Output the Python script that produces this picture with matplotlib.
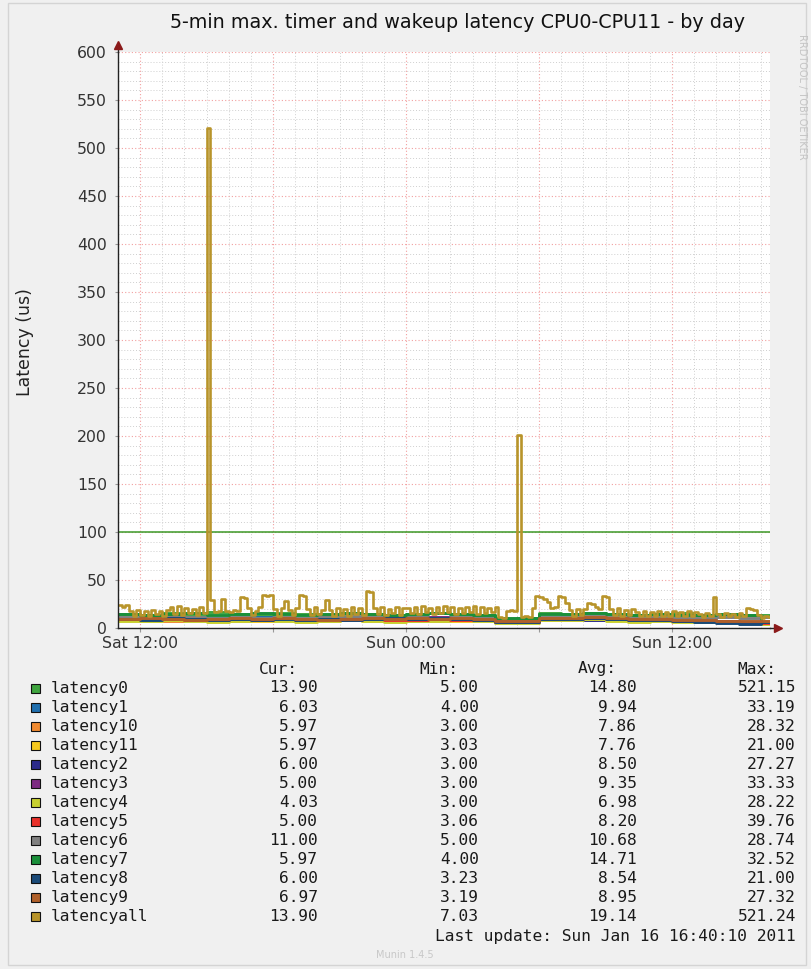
import matplotlib
matplotlib.use("Agg")
import matplotlib.pyplot as plt
import matplotlib.dates as mdates
import matplotlib.ticker as mticker
from matplotlib.patches import Rectangle
import pandas as pd

W, H = 811, 969

title = "5-min max. timer and wakeup latency CPU0-CPU11 - by day"

names = ["latency0", "latency1", "latency10", "latency11", "latency2", "latency3",
         "latency4", "latency5", "latency6", "latency7", "latency8", "latency9",
         "latencyall"]
colors = ["#3fa53f", "#1f6fae", "#f08a30", "#f5c81e", "#2c2a8a", "#7d2a82",
          "#c8d030", "#e8302a", "#808080", "#1a8f3a", "#1a4a78", "#b0602a",
          "#b8942a"]

cur = [13.90, 6.03, 5.97, 5.97, 6.00, 5.00, 4.03, 5.00, 11.00, 5.97, 6.00, 6.97, 13.90]
mins = [5.00, 4.00, 3.00, 3.03, 3.00, 3.00, 3.00, 3.06, 5.00, 4.00, 3.23, 3.19, 7.03]
avgs = [14.80, 9.94, 7.86, 7.76, 8.50, 9.35, 6.98, 8.20, 10.68, 14.71, 8.54, 8.95, 19.14]
maxs = [521.15, 33.19, 28.32, 21.00, 27.27, 33.33, 28.22, 39.76, 28.74, 32.52, 21.00, 27.32, 521.24]

# hourly samples from Sat 11:00
latency0 = [15, 14, 16, 15, 17, 15, 14, 16, 15, 14, 16, 15, 14, 15, 16, 15, 14, 9, 10, 16, 15, 16, 15, 14, 15, 16, 14, 15, 14, 14, 14]
latency1 = [10, 11, 12, 11, 10, 9, 11, 10, 9, 10, 11, 9, 10, 11, 10, 9, 10, 7, 8, 10, 10, 11, 10, 9, 10, 9, 8, 6, 5, 6, 6]
latency10 = [9, 8, 7, 9, 8, 7, 8, 9, 7, 8, 9, 8, 7, 8, 7, 8, 9, 6, 6, 8, 8, 9, 8, 7, 8, 7, 6, 7, 6, 6, 6]
latency11 = [8, 7, 12, 8, 7, 8, 7, 8, 9, 7, 8, 7, 8, 7, 8, 7, 8, 6, 6, 9, 9, 10, 8, 7, 8, 7, 6, 7, 6, 6, 6]
latency2 = [9, 8, 11, 9, 8, 9, 8, 9, 8, 9, 8, 9, 10, 9, 10, 9, 8, 6, 6, 9, 9, 8, 9, 8, 8, 7, 7, 6, 6, 6, 6]
latency3 = [10, 9, 12, 10, 9, 10, 9, 10, 9, 10, 9, 10, 11, 10, 11, 10, 9, 7, 7, 9, 9, 10, 9, 9, 9, 8, 8, 7, 6, 5, 5]
latency4 = [7, 7, 8, 7, 6, 7, 8, 7, 6, 7, 8, 7, 6, 7, 7, 8, 7, 5, 5, 8, 8, 9, 7, 6, 7, 6, 6, 6, 5, 4, 4]
latency5 = [9, 10, 9, 8, 8, 9, 8, 10, 8, 9, 8, 9, 8, 8, 9, 8, 8, 6, 6, 9, 9, 10, 9, 8, 8, 7, 7, 6, 5, 5, 5]
latency6 = [11, 10, 12, 11, 10, 11, 10, 11, 10, 11, 12, 11, 10, 11, 10, 11, 11, 9, 9, 11, 11, 12, 11, 10, 11, 10, 10, 11, 10, 11, 11]
latency7 = [15, 14, 15, 16, 14, 15, 16, 15, 14, 15, 16, 15, 14, 15, 16, 15, 14, 10, 10, 15, 15, 16, 15, 14, 15, 14, 14, 15, 14, 6, 6]
latency8 = [9, 8, 10, 9, 8, 9, 8, 9, 8, 9, 8, 9, 10, 9, 10, 9, 8, 6, 6, 9, 9, 10, 9, 8, 8, 7, 6, 5, 4, 6, 6]
latency9 = [9, 10, 9, 8, 9, 10, 9, 10, 9, 8, 9, 10, 9, 10, 9, 10, 9, 7, 7, 10, 10, 11, 10, 9, 9, 8, 8, 7, 7, 7, 7]

# 10-minute samples from Sat 11:00
latencyall = [24, 22, 24,
              18, 13, 19, 14, 18, 12, 19, 15, 18, 13, 19,
              22, 15, 23, 14, 21, 16, 20, 14, 22,
              16, 521.24,
              29, 17, 18, 30, 18,
              17, 19, 18,
              32, 31,
              21, 14, 18, 22,
              34, 33, 34,
              20, 13, 21,
              28,
              19, 14, 21,
              34, 33,
              20, 14, 22, 15, 19,
              29,
              19, 13, 21, 14, 20, 12, 22, 15, 21, 14,
              39, 37,
              21, 15, 22, 14, 20, 16, 22, 14, 21,
              21, 16, 22, 15, 23, 17, 21, 15, 22, 16, 23, 17, 22, 15, 21, 16, 22, 17,
              23, 15, 22, 16, 21, 17, 22,
              11, 10,
              18, 19, 18,
              201,
              11, 12, 11,
              21,
              33, 32, 30,
              27,
              21, 22,
              33, 32,
              26,
              19, 13, 20, 14,
              20,
              26, 25,
              22,
              20,
              33, 32,
              20, 14, 21, 13, 19, 14, 20,
              17, 12, 18, 13, 17, 12, 18, 13, 17, 12, 18, 13, 17, 12, 18, 13, 17,
              15, 11, 16, 12,
              32,
              15, 11, 16, 12, 15, 11, 16, 12,
              21, 20, 19,
              14, 10, 13, 11,
              13.9]

hourly = [latency0, latency1, latency10, latency11, latency2, latency3, latency4,
          latency5, latency6, latency7, latency8, latency9]

fig = plt.figure(figsize=(W / 100, H / 100), dpi=100, facecolor="#f0f0f0")
fig.patches.append(Rectangle((8 / W, 4 / H), 798 / W, 962 / H, transform=fig.transFigure,
                             fill=False, edgecolor="#d4d4d4", lw=1))
ax = fig.add_axes([118 / W, 1 - 628 / H, 652 / W, 576 / H], facecolor="white")

t_hour = pd.date_range("2011-01-15 11:00", periods=len(latency0), freq="1h")
t_all = pd.date_range("2011-01-15 11:00", periods=len(latencyall), freq="10min")

for vals, c in zip(hourly, colors[:-1]):
    ax.step(t_hour, vals, where="post", color=c, lw=2.1, zorder=3)
ax.step(t_all, latencyall, where="post", color=colors[-1], lw=1.9, zorder=4)

ax.axhline(100, color="#3c9a28", lw=1.1, zorder=2)

ax.set_xlim(pd.Timestamp("2011-01-15 11:00"), pd.Timestamp("2011-01-16 16:25"))
ax.set_ylim(0, 600)

ax.yaxis.set_major_locator(mticker.MultipleLocator(50))
ax.yaxis.set_minor_locator(mticker.MultipleLocator(10))
ax.xaxis.set_major_locator(mdates.HourLocator(byhour=[0, 6, 12, 18]))
ax.xaxis.set_minor_locator(mdates.HourLocator())


def fmt_time(x, pos):
    d = mdates.num2date(x)
    return d.strftime("%a %H:%M") if d.hour in (0, 12) else ""


ax.xaxis.set_major_formatter(mticker.FuncFormatter(fmt_time))

ax.set_axisbelow(True)
ax.grid(which="minor", color="#cfcfcf", ls=(0, (1, 2)), lw=0.7)
ax.grid(which="major", color="#f2a0a0", ls=(0, (1, 2)), lw=0.8)

for s in ["top", "right"]:
    ax.spines[s].set_visible(False)
for s in ["left", "bottom"]:
    ax.spines[s].set_color("#222222")
    ax.spines[s].set_linewidth(1.0)
    ax.spines[s].set_zorder(5)

ax.tick_params(which="both", colors="#999999", labelcolor="#333333", labelsize=11.3)
ax.tick_params(axis="y", which="major", length=2, pad=6)
ax.tick_params(axis="x", which="major", length=3, pad=3)
ax.tick_params(which="minor", length=0)

# axis arrows
ax.plot([1.0, 1.012], [0, 0], transform=ax.transAxes, color="#222222", lw=1, clip_on=False)
ax.plot([0, 0], [1.0, 1.01], transform=ax.transAxes, color="#222222", lw=1, clip_on=False)
ax.plot([1.012], [0], transform=ax.transAxes, marker=">", ms=6, color="#8b1a1a",
        clip_on=False, zorder=6)
ax.plot([0], [1.012], transform=ax.transAxes, marker="^", ms=6, color="#8b1a1a",
        clip_on=False, zorder=6)

fig.text(457.5 / W, 1 - 22 / H, title, ha="center", va="center", fontsize=13.8,
         color="#111111")
fig.text(25 / W, 1 - 342 / H, "Latency (us)", rotation=90, ha="center", va="center",
         fontsize=12.5, color="#222222")
fig.text(802 / W, 1 - 97 / H, "RRDTOOL / TOBI OETIKER", rotation=270, ha="center",
         va="center", fontsize=7, color="#c4c4c4")
fig.text(405 / W, 1 - 955 / H, "Munin 1.4.5", ha="center", va="center", fontsize=7,
         color="#c8c8c8")

# legend table
mono = dict(family="DejaVu Sans Mono", fontsize=11.7, color="#1a1a1a", va="center")
header_y = 669
for label, x in [("Cur:", 259), ("Min:", 419), ("Avg:", 578), ("Max:", 737)]:
    fig.text(x / W, 1 - header_y / H, label, ha="left", **mono)

for i, name in enumerate(names):
    y = 688 + 19.08 * i
    fig.patches.append(Rectangle((31 / W, 1 - (y + 4.5) / H), 9 / W, 9 / H,
                                 transform=fig.transFigure, facecolor=colors[i],
                                 edgecolor="#111111", lw=0.8))
    fig.text(51 / W, 1 - y / H, name, ha="left", **mono)
    for v, xr in [(cur[i], 318), (mins[i], 479), (avgs[i], 637), (maxs[i], 796)]:
        fig.text(xr / W, 1 - y / H, f"{v:.2f}", ha="right", **mono)

fig.text(796 / W, 1 - 936 / H, "Last update: Sun Jan 16 16:40:10 2011", ha="right", **mono)

fig.savefig("out.png", dpi=100, facecolor=fig.get_facecolor())
